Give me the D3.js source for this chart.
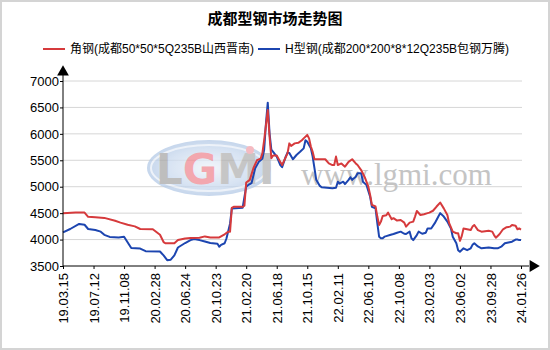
<!DOCTYPE html>
<html>
<head>
<meta charset="utf-8">
<script src="https://cdn.jsdelivr.net/npm/d3@7"></script>
<style>
  body { margin: 0; background: #fff; }
  svg { display: block; font-family: "Liberation Sans", Arial, "Noto Sans CJK SC", sans-serif; }
</style>
</head>
<body>
<script>
// week index (0 = 19.03.15, 255 = 24.01.26) and price
const tickLabels = ['19.03.15', '19.07.12', '19.11.08', '20.02.28', '20.06.24', '20.10.23', '21.02.20', '21.06.18',
  '21.10.15', '22.02.11', '22.06.10', '22.10.08', '23.02.03', '23.06.02', '23.09.28', '24.01.26'];

const angleSteel = [
  [0, 4500], [7, 4510], [12, 4510], [14, 4430], [18, 4420], [23, 4410], [29, 4355], [32, 4320], [36, 4280],
  [40, 4250], [43, 4200], [50, 4195], [54, 4090], [56, 3953], [57, 3930], [62, 3930], [64, 3990], [68, 4020],
  [71, 4030], [76, 4035], [79, 4060], [82, 4040], [87, 4040], [90, 4100], [92, 4150], [93, 4150], [94, 4600],
  [95, 4620], [100, 4620], [101, 4640], [102, 5080], [104, 5130], [106, 5350], [108, 5500], [110, 5530],
  [111, 5630], [112, 5880], [114, 6450], [115, 5950], [116, 5540], [117, 5590], [119, 5590], [121, 5470],
  [122, 5410], [125, 5630], [126, 5820], [127, 5770], [129, 5820], [131, 5830], [133, 5880], [134, 5915],
  [136, 5980], [137, 5915], [138, 5760], [139, 5660], [140, 5520], [146, 5520], [148, 5440], [150, 5410],
  [151, 5410], [152, 5570], [153, 5410], [155, 5440], [157, 5380], [159, 5470], [161, 5520], [163, 5440],
  [164, 5410], [166, 5315], [168, 5180], [170, 5000], [171, 4845], [172, 4655], [174, 4625], [175, 4435],
  [176, 4275], [177, 4340], [178, 4445], [180, 4460], [181, 4510], [183, 4385], [184, 4405], [186, 4360],
  [188, 4370], [190, 4320], [191, 4245], [193, 4320], [195, 4340], [196, 4435], [197, 4540], [199, 4465],
  [201, 4480], [203, 4500], [204, 4510], [206, 4545], [208, 4625], [210, 4700], [212, 4590], [214, 4465],
  [215, 4310], [217, 4150], [219, 4120], [220, 4120], [221, 3975], [222, 4065], [223, 4210], [225, 4195],
  [227, 4180], [228, 4245], [229, 4275], [231, 4180], [233, 4150], [237, 4165], [239, 4150], [240, 4085],
  [241, 4035], [243, 4100], [245, 4195], [247, 4235], [249, 4245], [250, 4275], [252, 4260], [253, 4195],
  [254, 4210], [255, 4190]
];

const hSteel = [
  [0, 4137], [4, 4200], [9, 4295], [12, 4280], [14, 4200], [18, 4180], [21, 4150], [23, 4090], [26, 4050],
  [31, 4040], [34, 4055], [38, 3840], [43, 3830], [46, 3780], [54, 3775], [56, 3700], [58, 3610], [60, 3620],
  [62, 3700], [64, 3850], [68, 3935], [71, 3990], [73, 4010], [76, 3990], [79, 3965], [82, 3935], [86, 3920],
  [87, 3865], [88, 3900], [90, 3930], [91, 4020], [93, 4300], [94, 4590], [100, 4600], [102, 5000], [103, 5030],
  [105, 5070], [107, 5350], [109, 5470], [111, 5530], [112, 5700], [113, 6200], [114, 6590], [115, 6010],
  [116, 5700], [117, 5660], [119, 5570], [121, 5410], [122, 5370], [124, 5570], [125, 5645], [126, 5640],
  [128, 5520], [130, 5600], [132, 5660], [134, 5725], [135, 5880], [136, 5850], [138, 5725], [139, 5570],
  [140, 5350], [141, 5130], [143, 5015], [144, 4990], [147, 4980], [150, 4970], [152, 4980], [153, 5095],
  [154, 5060], [156, 5095], [157, 5050], [159, 5130], [160, 5180], [161, 5130], [163, 5190], [164, 5255],
  [166, 5255], [167, 5095], [169, 5030], [171, 4810], [172, 4620], [174, 4590], [175, 4310], [176, 4055],
  [177, 4025], [178, 4025], [179, 4055], [180, 4065], [182, 4085], [184, 4105], [186, 4130], [188, 4150],
  [190, 4110], [191, 4105], [193, 4150], [194, 4025], [195, 3990], [197, 4085], [198, 4150], [200, 4110],
  [202, 4130], [203, 4210], [205, 4210], [207, 4310], [209, 4435], [210, 4500], [212, 4435], [214, 4340],
  [216, 4210], [217, 4055], [219, 3930], [220, 3800], [221, 3770], [223, 3835], [225, 3800], [227, 3835],
  [228, 3900], [229, 3930], [231, 3870], [233, 3835], [237, 3850], [240, 3835], [242, 3835], [244, 3865],
  [246, 3930], [248, 3945], [250, 3960], [252, 4000], [253, 4000], [254, 3990], [255, 3990]
];

const seriesNames = ['角钢(成都50*50*5Q235B山西晋南)', 'H型钢(成都200*200*8*12Q235B包钢万腾)'];
const seriesColors = ['#d63a3c', '#1c45b0'];
const yTicks = [3500, 4000, 4500, 5000, 5500, 6000, 6500, 7000];

const W = 550, H = 350;
const margin = { top: 81, right: 29, bottom: 84, left: 63 };

const svg = d3.select('body').append('svg')
  .attr('width', W)
  .attr('height', H);

svg.append('rect')
  .attr('x', 1).attr('y', 1)
  .attr('width', W - 2).attr('height', H - 2)
  .attr('fill', '#fff')
  .attr('stroke', '#d4d4d4')
  .attr('stroke-width', 2);

const x = d3.scaleLinear().domain([0, 255]).range([margin.left, W - margin.right]);
const y = d3.scaleLinear().domain([3500, 7000]).range([H - margin.bottom, margin.top]);

// title
svg.append('text')
  .attr('x', 275).attr('y', 24)
  .attr('text-anchor', 'middle')
  .style('font-size', '15px')
  .style('font-weight', 'bold')
  .text('成都型钢市场走势图');

// legend
const legendX = [43, 258];
seriesNames.forEach((name, i) => {
  const g = svg.append('g').attr('transform', 'translate(' + legendX[i] + ',49)');
  g.append('line').attr('x1', 0).attr('x2', 22).attr('stroke', seriesColors[i]).attr('stroke-width', 2);
  g.append('text').attr('x', 27).attr('dy', '0.35em').style('font-size', '12px').text(name);
});

// gridlines
svg.append('g')
  .selectAll('line')
  .data(yTicks.slice(1))
  .join('line')
  .attr('x1', margin.left)
  .attr('x2', x(255) + 1)
  .attr('y1', d => y(d))
  .attr('y2', d => y(d))
  .attr('stroke', '#d6d6d6')
  .attr('stroke-width', 1);

// watermark
const wm = svg.append('g').attr('opacity', 0.75);
const grad = svg.append('defs').append('radialGradient').attr('id', 'wmGrad');
grad.append('stop').attr('offset', '0%').attr('stop-color', '#eef3fa');
grad.append('stop').attr('offset', '70%').attr('stop-color', '#c9d9ee');
grad.append('stop').attr('offset', '100%').attr('stop-color', '#b3c9e6');
wm.append('ellipse')
  .attr('cx', 209).attr('cy', 168).attr('rx', 62).attr('ry', 28)
  .attr('fill', 'url(#wmGrad)');
wm.append('ellipse')
  .attr('cx', 209).attr('cy', 168).attr('rx', 58).attr('ry', 23)
  .attr('fill', 'none').attr('stroke', '#e8eef7').attr('stroke-width', 2);
const logo = wm.append('text')
  .attr('x', 156).attr('y', 184)
  .style('font-family', '"DejaVu Sans", sans-serif')
  .style('font-size', '42px')
  .style('font-weight', 'bold');
logo.append('tspan').attr('fill', '#a9a9a9').text('L');
logo.append('tspan').attr('fill', '#ef8a94').text('G');
logo.append('tspan').attr('fill', '#b4b4b4').text('MI');
wm.append('circle').attr('cx', 250).attr('cy', 150).attr('r', 4).attr('fill', '#f2a4ad');
svg.append('text')
  .attr('x', 301).attr('y', 185)
  .style('font-family', '"Liberation Serif", "DejaVu Serif", serif')
  .style('font-size', '31px')
  .attr('fill', '#c4c4c4')
  .text('www.lgmi.com');

// series lines
const line = d3.line()
  .x(d => x(d[0]))
  .y(d => y(d[1]));

[hSteel, angleSteel].forEach((data, k) => {
  svg.append('path')
    .datum(data)
    .attr('fill', 'none')
    .attr('stroke', seriesColors[1 - k])
    .attr('stroke-width', 2)
    .attr('stroke-linejoin', 'round')
    .attr('d', line);
});

// axes
const yAxis = svg.append('g')
  .attr('transform', 'translate(' + margin.left + ',0)')
  .call(d3.axisLeft(y).tickValues(yTicks).tickFormat(d3.format('d')).tickSize(3).tickPadding(1).tickSizeOuter(0));
yAxis.select('.domain').attr('d', 'M0,' + (y(3500)) + 'V' + (y(7000) - 8));
yAxis.selectAll('text').style('font-size', '13px').style('font-family', '"Liberation Sans", Arial, sans-serif');

const xAxis = svg.append('g')
  .attr('transform', 'translate(0,' + y(3500) + ')')
  .call(d3.axisBottom(x).tickValues(d3.range(0, 256, 17)).tickFormat((d, i) => tickLabels[i]).tickSize(3).tickSizeOuter(0));
xAxis.select('.domain').attr('d', 'M' + margin.left + ',0H' + (x(255) + 8));
xAxis.selectAll('text')
  .style('font-size', '13px')
  .style('font-family', '"Liberation Sans", Arial, sans-serif')
  .attr('transform', 'rotate(-90)')
  .attr('x', -7)
  .attr('y', 0)
  .attr('dy', '0.35em')
  .style('text-anchor', 'end');

// axis arrows
svg.append('path')
  .attr('d', d3.symbol(d3.symbolTriangle, 60)())
  .attr('transform', 'translate(' + margin.left + ',' + (y(7000) - 9) + ')')
  .attr('fill', '#000');
svg.append('path')
  .attr('d', d3.symbol(d3.symbolTriangle, 60)())
  .attr('transform', 'translate(' + (x(255) + 12) + ',' + y(3500) + ') rotate(90)')
  .attr('fill', '#000');
</script>
</body>
</html>
